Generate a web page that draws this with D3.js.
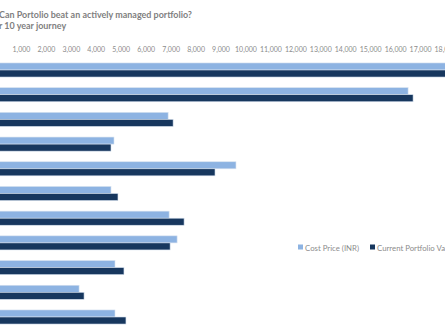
<!DOCTYPE html>
<html>
<head>
<meta charset="utf-8">
<script src="https://cdn.jsdelivr.net/npm/d3@7"></script>
<style>
  html, body { margin: 0; padding: 0; background: #fff; overflow: hidden; }
  svg { display: block; }
</style>
</head>
<body>
<svg id="chart" width="445" height="334"></svg>
<script>
const categories = ["Holding 1","Holding 2","Holding 3","Holding 4","Holding 5","Holding 6","Holding 7","Holding 8","Holding 9","Holding 10","Holding 11"];
const seriesNames = ["Cost Price (INR)", "Current Portfolio Value (INR)"];
const costPrice =    [18600, 16520, 6900, 4730, 9620, 4610, 6940, 7260, 4770, 3330, 4770];
const currentValue = [18900, 16720, 7100, 4610, 8780, 4890, 7540, 6980, 5130, 3530, 5210];
const tickValues = [1000,2000,3000,4000,5000,6000,7000,8000,9000,10000,11000,12000,13000,14000,15000,16000,17000,18000];
const titleLines = ["Can Portolio beat an actively managed portfolio?", "r 10 year journey"];
const colors = ["#8DB3E2", "#17375E"];
const FONT = "Lato, 'Open Sans', sans-serif";

const svg = d3.select("#chart");

const x = d3.scaleLinear().domain([0, 18000]).range([-4, 445]);
const y = d3.scaleBand().domain(categories).range([57.65, 329.35]).paddingInner(0.43).paddingOuter(0.215);
const ySub = d3.scaleBand().domain([0, 1]).range([0, y.bandwidth()]);

// helper: size a text so its width matches a target
function fitWidth(sel, target) {
  const fs = +sel.attr("font-size");
  const w = sel.node().getComputedTextLength();
  if (w > 0) sel.attr("font-size", (fs * target / w).toFixed(2));
}

// title
const tg = svg.append("g");
const t1 = tg.append("text").attr("x", -1).attr("y", 17.5)
  .attr("font-family", FONT).attr("font-weight", "bold").attr("font-size", 10)
  .attr("fill", "#7F7F7F").text(titleLines[0]);
fitWidth(t1, 193);
tg.append("text").attr("x", -1).attr("y", 28.5)
  .attr("font-family", FONT).attr("font-weight", "bold").attr("font-size", t1.attr("font-size"))
  .attr("fill", "#7F7F7F").text(titleLines[1]);

// top axis labels
const axis = d3.axisTop(x).tickValues(tickValues).tickSize(0).tickPadding(0)
  .tickFormat(d3.format(","));
const ag = svg.append("g").attr("transform", "translate(0,52)").call(axis);
ag.select(".domain").remove();
ag.selectAll("text").attr("font-family", FONT)
  .attr("font-size", 7).attr("fill", "#8C8C8C");

// bars
const rows = categories.map((c, i) => ({ c, vals: [costPrice[i], currentValue[i]] }));
const g = svg.append("g");
rows.forEach(r => {
  r.vals.forEach((v, j) => {
    g.append("rect")
      .attr("x", x(0))
      .attr("y", y(r.c) + ySub(j))
      .attr("width", x(v) - x(0))
      .attr("height", ySub.bandwidth())
      .attr("fill", colors[j])
      .attr("stroke", "#D6E1EF").attr("stroke-width", 0.6);
  });
});

// legend
const lg = svg.append("g");
const legendX = [298, 370];
let legendFs = null;
seriesNames.forEach((n, j) => {
  lg.append("rect").attr("x", legendX[j]).attr("y", 244.5).attr("width", 5).attr("height", 5).attr("fill", colors[j]);
  const t = lg.append("text").attr("x", legendX[j] + 7).attr("y", 250.5)
    .attr("font-family", FONT).attr("font-size", legendFs || 9)
    .attr("fill", "#8C8C8C").text(n);
  if (j === 0) { fitWidth(t, 54); legendFs = t.attr("font-size"); }
});
</script>
</body>
</html>
